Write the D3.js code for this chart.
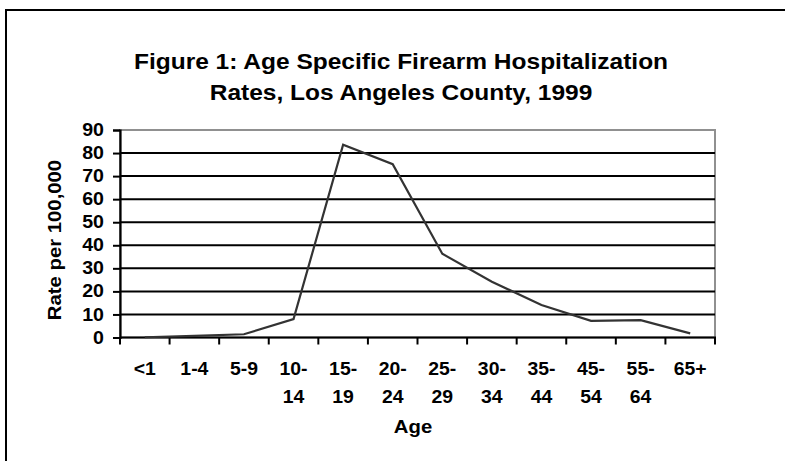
<!DOCTYPE html>
<html>
<head>
<meta charset="utf-8">
<script src="https://cdn.jsdelivr.net/npm/d3@7"></script>
<style>
  html, body { margin: 0; padding: 0; background: #fff; }
  svg { display: block; }
  text { font-family: "Liberation Sans", Arial, sans-serif; font-weight: bold; fill: #000; }
</style>
</head>
<body>
<script>
// Age groups (two-line labels) and hospitalization rates per 100,000
const ageGroups = ["<1", "1-4", "5-9", "10-14", "15-19", "20-24", "25-29", "30-34", "35-44", "45-54", "55-64", "65+"];
const ageLabels = [["<1"], ["1-4"], ["5-9"], ["10-", "14"], ["15-", "19"], ["20-", "24"], ["25-", "29"], ["30-", "34"], ["35-", "44"], ["45-", "54"], ["55-", "64"], ["65+"]];
const rates = [0.1, 0.7, 1.4, 8.0, 83.6, 75.2, 36.3, 24.2, 14.1, 7.2, 7.5, 1.8];
const yTicks = [0, 10, 20, 30, 40, 50, 60, 70, 80, 90];
const titleLines = ["Figure 1: Age Specific Firearm Hospitalization", "Rates, Los Angeles County, 1999"];

const W = 785, H = 461;
const plot = { left: 120, right: 715, top: 130, bottom: 337.5 };

// the chart's bold face runs a little wider than Arial; widen glyphs slightly
const WIDE_TITLE = 1.14, WIDE_TICK = 1.12, WIDE_CAT = 1.05, WIDE_AXIS = 1.07;

const svg = d3.select("body").append("svg").attr("width", W).attr("height", H);

// outer frame
svg.append("rect")
  .attr("x", 6).attr("y", 10).attr("width", W + 20).attr("height", H + 20)
  .attr("fill", "none").attr("stroke", "#000").attr("stroke-width", 2);

const x = d3.scaleBand().domain(ageGroups).range([plot.left, plot.right]).padding(0);
const y = d3.scaleLinear().domain([0, 90]).range([plot.bottom, plot.top]);

// plot area border
svg.append("rect")
  .attr("x", plot.left).attr("y", plot.top)
  .attr("width", plot.right - plot.left).attr("height", plot.bottom - plot.top)
  .attr("fill", "none").attr("stroke", "#909090").attr("stroke-width", 2);

// gridlines
svg.append("g").selectAll("line")
  .data(yTicks.filter(d => d > 0 && d < 90))
  .join("line")
  .attr("x1", plot.left).attr("x2", plot.right)
  .attr("y1", d => y(d)).attr("y2", d => y(d))
  .attr("stroke", "#000").attr("stroke-width", 2);

// y axis
const yAxis = svg.append("g")
  .attr("transform", `translate(${plot.left},0)`)
  .call(d3.axisLeft(y).tickValues(yTicks).tickSize(7).tickPadding(9).tickFormat(d3.format("d")));
yAxis.select(".domain").attr("stroke", "#000").attr("stroke-width", 2.2);
yAxis.selectAll(".tick line").attr("stroke", "#000").attr("stroke-width", 2);
yAxis.selectAll(".tick text")
  .style("font-family", "'Liberation Sans', Arial, sans-serif")
  .style("font-weight", "bold").style("font-size", "17.5px").attr("fill", "#000")
  .attr("x", -16 / WIDE_TICK)
  .attr("transform", `scale(${WIDE_TICK},1)`);

// x axis with tick marks on category boundaries
const xAxis = svg.append("g").attr("transform", `translate(0,${plot.bottom})`);
xAxis.append("line")
  .attr("x1", plot.left).attr("x2", plot.right + 1)
  .attr("stroke", "#000").attr("stroke-width", 2.2);
const bounds = ageGroups.map(d => x(d)).concat([plot.right]);
xAxis.selectAll("line.tk").data(bounds).join("line").attr("class", "tk")
  .attr("x1", d => d).attr("x2", d => d).attr("y1", 0).attr("y2", 7)
  .attr("stroke", "#000").attr("stroke-width", 2);

const lbl = xAxis.selectAll("text.lbl").data(ageGroups).join("text").attr("class", "lbl")
  .attr("text-anchor", "middle").style("font-size", "18.5px")
  .attr("transform", d => `translate(${x(d) + x.bandwidth() / 2},0) scale(${WIDE_CAT},1)`);
lbl.selectAll("tspan").data((d, i) => ageLabels[i]).join("tspan")
  .attr("x", 0).attr("y", (d, i) => 38 + i * 28).text(d => d);

// series line
const line = d3.line()
  .x((d, i) => x(ageGroups[i]) + x.bandwidth() / 2)
  .y(d => y(d));
svg.append("path").datum(rates)
  .attr("d", line).attr("fill", "none")
  .attr("stroke", "#333").attr("stroke-width", 2.2).attr("stroke-linejoin", "miter");

// titles
svg.append("g").selectAll("text").data(titleLines).join("text")
  .attr("transform", (d, i) => `translate(401,${69 + i * 31}) scale(${WIDE_TITLE},1)`)
  .attr("text-anchor", "middle").style("font-size", "21.5px").text(d => d);

svg.append("text")
  .attr("transform", `translate(413,433) scale(${WIDE_AXIS},1)`)
  .attr("text-anchor", "middle").style("font-size", "19px").text("Age");

svg.append("text")
  .attr("transform", `translate(61,240) rotate(-90) scale(${WIDE_AXIS},1)`)
  .attr("text-anchor", "middle").style("font-size", "19px").text("Rate per 100,000");
</script>
</body>
</html>
